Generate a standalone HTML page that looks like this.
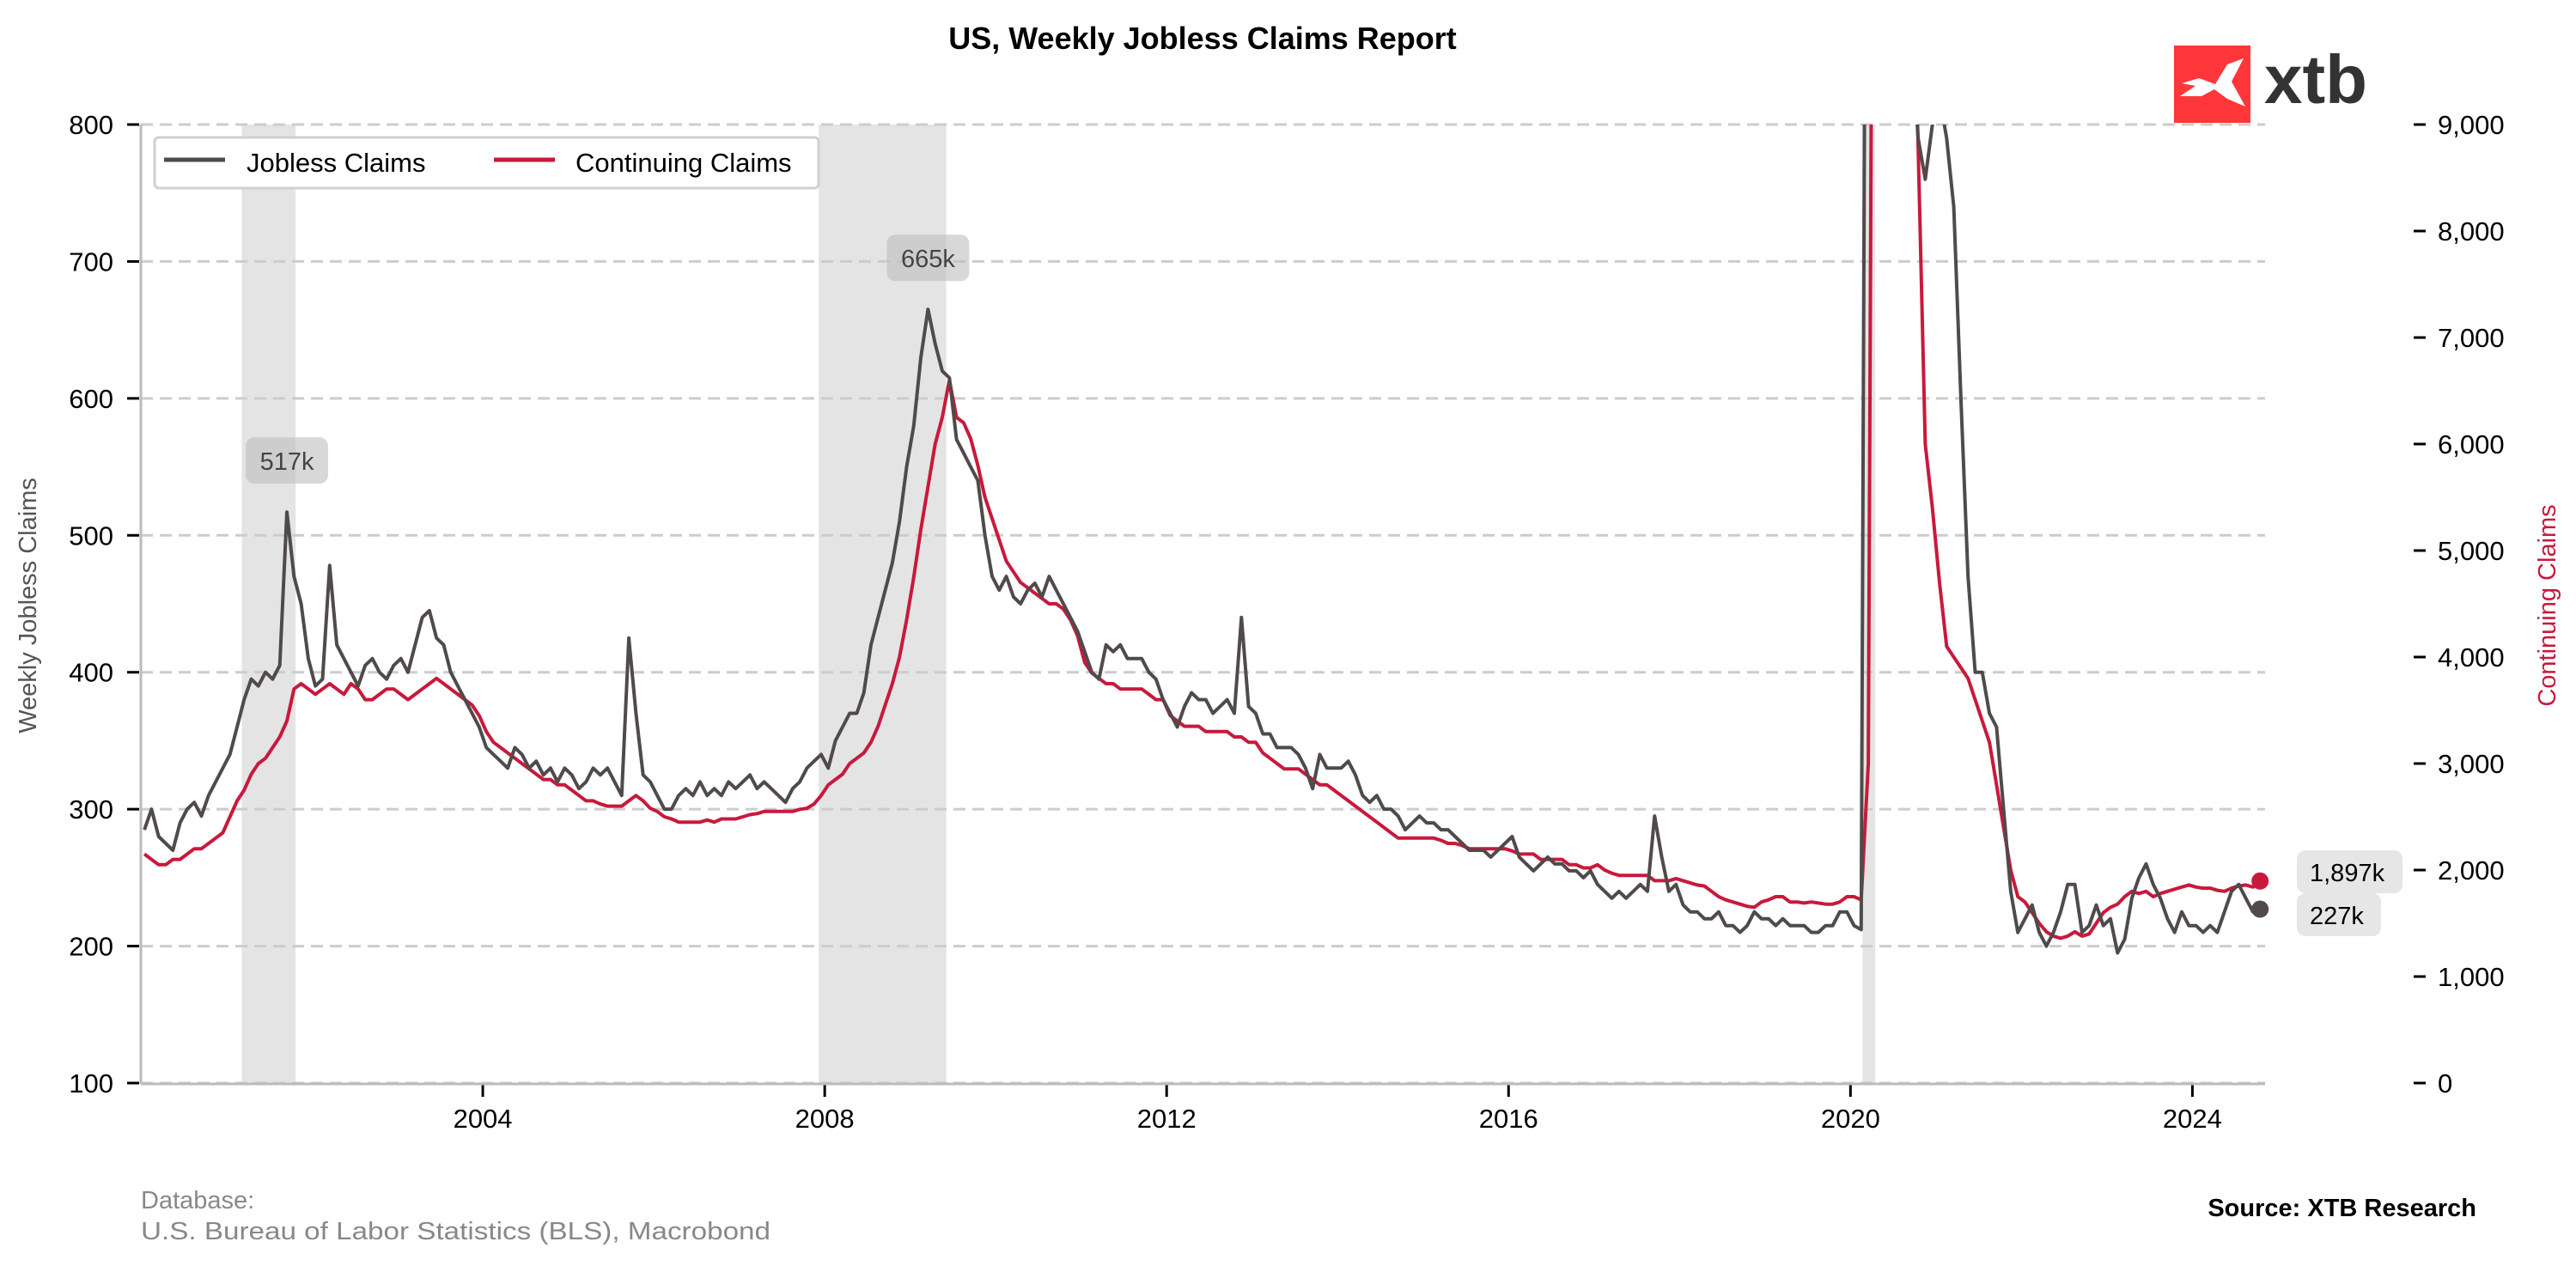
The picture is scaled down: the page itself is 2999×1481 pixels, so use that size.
<!DOCTYPE html>
<html><head><meta charset="utf-8"><style>
html,body{margin:0;padding:0;background:#fff;}
svg{display:block;font-family:"Liberation Sans",Arial,sans-serif;}
</style></head><body>
<svg id="chart" width="2999" height="1481" viewBox="0 0 2999 1481" xmlns="http://www.w3.org/2000/svg">
  <defs><clipPath id="plotClip"><rect x="164" y="145" width="2473" height="1116"/></clipPath></defs>
  <text x="1400" y="57" text-anchor="middle" font-size="36" font-weight="bold" fill="#000">US, Weekly Jobless Claims Report</text>
  <g>
    <rect x="2531" y="53" width="89" height="90" fill="#ff363a"/>
    <path d="M2540 97 L2560 91 L2579 98 L2593 75 L2612 68 L2598 95 L2614 124 L2593 115 L2578 104 L2563 112 L2538 112 L2556 100 Z" fill="#fff"/>
    <text x="2636" y="120" font-size="80" font-weight="bold" fill="#333" textLength="120" lengthAdjust="spacingAndGlyphs">xtb</text>
  </g>
  <g id="shading"></g>
  <g id="grid"></g>
  <g id="series" clip-path="url(#plotClip)"></g>
  <g id="axes"></g>
  <g id="annot"></g>
  <g>
    <rect x="180" y="160" width="773" height="59" rx="5" fill="#fff" stroke="#d0d0d0" stroke-width="3"/>
    <line x1="191" y1="186" x2="262" y2="186" stroke="#504a4a" stroke-width="5"/>
    <text x="287" y="200" font-size="31" fill="#000">Jobless Claims</text>
    <line x1="575" y1="186" x2="646" y2="186" stroke="#c8193c" stroke-width="5"/>
    <text x="670" y="200" font-size="31" fill="#000">Continuing Claims</text>
  </g>
  <text transform="translate(42,705) rotate(-90)" text-anchor="middle" font-size="29" fill="#555">Weekly Jobless Claims</text>
  <text transform="translate(2975,705) rotate(-90)" text-anchor="middle" font-size="29" fill="#c8193c">Continuing Claims</text>
  <text x="164" y="1407" font-size="29" fill="#888">Database:</text>
  <text x="164" y="1443" font-size="29" fill="#888" textLength="733" lengthAdjust="spacingAndGlyphs">U.S. Bureau of Labor Statistics (BLS), Macrobond</text>
  <text x="2883" y="1416" text-anchor="end" font-size="29" font-weight="bold" fill="#000">Source: XTB Research</text>
</svg>
<script>
// Monthly values starting Jan 2000 (thousands)
const jobless = [
285,300,280,275,270,290,300,305,295,310,320,330,
340,360,380,395,390,400,395,405,517,470,450,410,
390,395,478,420,410,400,390,405,410,400,395,405,
410,400,420,440,445,425,420,400,390,380,370,360,
345,340,335,330,345,340,330,335,325,330,320,330,
325,315,320,330,325,330,320,310,425,370,325,320,
310,300,300,310,315,310,320,310,315,310,320,315,
320,325,315,320,315,310,305,315,320,330,335,340,
330,350,360,370,370,385,420,440,460,480,510,550,
580,630,665,640,620,615,570,560,550,540,500,470,
460,470,455,450,460,465,455,470,460,450,440,430,
415,400,395,420,415,420,410,410,410,400,395,380,
370,360,375,385,380,380,370,375,380,370,440,375,
370,355,355,345,345,345,340,330,315,340,330,330,
330,335,325,310,305,310,300,300,295,285,290,295,
290,290,285,285,280,275,270,270,270,265,270,275,
280,265,260,255,260,265,260,260,255,255,250,255,
245,240,235,240,235,240,245,240,295,265,240,245,
230,225,225,220,220,225,215,215,210,215,225,220,
220,215,220,215,215,215,210,210,215,215,225,225,
215,212,1500,3000,2200,1500,1350,1000,870,790,760,800,
820,790,740,600,470,400,400,370,360,300,240,210,
220,230,210,200,210,225,245,245,210,215,230,215,
220,195,205,235,250,260,245,235,220,210,225,215,
215,210,215,210,225,240,245,235,225,227];
const continuing = [
2150,2100,2050,2050,2100,2100,2150,2200,2200,2250,2300,2350,
2500,2650,2750,2900,3000,3050,3150,3250,3400,3700,3750,3700,
3650,3700,3750,3700,3650,3750,3700,3600,3600,3650,3700,3700,
3650,3600,3650,3700,3750,3800,3750,3700,3650,3600,3550,3450,
3300,3200,3150,3100,3050,3000,2950,2900,2850,2850,2800,2800,
2750,2700,2650,2650,2620,2600,2600,2600,2650,2700,2650,2580,
2550,2500,2480,2450,2450,2450,2450,2470,2450,2480,2480,2480,
2500,2520,2530,2550,2550,2550,2550,2550,2570,2580,2620,2700,
2800,2850,2900,3000,3050,3100,3200,3350,3550,3750,4000,4350,
4750,5200,5600,6000,6250,6600,6250,6200,6050,5800,5500,5300,
5100,4900,4800,4700,4650,4600,4550,4500,4500,4450,4350,4200,
3950,3850,3800,3750,3750,3700,3700,3700,3700,3650,3600,3600,
3450,3400,3350,3350,3350,3300,3300,3300,3300,3250,3250,3200,
3200,3100,3050,3000,2950,2950,2950,2900,2850,2800,2800,2750,
2700,2650,2600,2550,2500,2450,2400,2350,2300,2300,2300,2300,
2300,2300,2280,2250,2250,2230,2200,2200,2200,2200,2200,2200,
2180,2150,2150,2150,2100,2100,2100,2100,2050,2050,2020,2020,
2050,2000,1970,1950,1950,1950,1950,1950,1900,1900,1900,1920,
1900,1880,1860,1850,1800,1750,1720,1700,1680,1660,1650,1700,
1720,1750,1750,1700,1700,1690,1700,1690,1680,1680,1700,1750,
1750,1720,3000,18000,21000,18000,16500,14000,11500,8800,6000,5400,
4700,4100,4000,3900,3800,3600,3400,3200,2800,2400,2000,1750,
1700,1600,1500,1420,1380,1360,1380,1420,1380,1400,1500,1600,
1650,1680,1750,1800,1780,1800,1750,1780,1800,1820,1840,1860,
1840,1830,1830,1810,1800,1830,1850,1860,1840,1897];
const leftTicks = [100,200,300,400,500,600,700,800];
const rightTicks = [0,1000,2000,3000,4000,5000,6000,7000,8000,9000];
const rightTickLabels = ["0","1,000","2,000","3,000","4,000","5,000","6,000","7,000","8,000","9,000"];
const xTicks = [2004,2008,2012,2016,2020,2024];
const recessionStarts = [2001.18, 2007.93, 2020.14];
const recessionEnds = [2001.81, 2009.42, 2020.29];
const peakLabels = ["517k","665k"];
const peakIndex = [20, 110];

const NS="http://www.w3.org/2000/svg";
const X0=164,X1=2637,Y0=145,Y1=1261;
const xScale=t=>X0+(t-2000)/(24.85)*(X1-X0);
const yL=v=>Y1-(v-100)/700*(Y1-Y0);
const yR=v=>Y1-v/9000*(Y1-Y0);
const tOf=i=>2000+(i+0.5)/12;
function mk(tag,attrs,parent){const e=document.createElementNS(NS,tag);for(const k in attrs)e.setAttribute(k,attrs[k]);parent.appendChild(e);return e;}
const G=id=>document.getElementById(id);

recessionStarts.forEach((s,i)=>{
  const r=mk('rect',{x:xScale(s),y:Y0,width:xScale(recessionEnds[i])-xScale(s),height:Y1-Y0,fill:'#e4e4e4'},G('shading'));
  
  
});
leftTicks.forEach(v=>{
  const l=mk('line',{x1:X0,x2:X1,y1:yL(v),y2:yL(v),stroke:'#cccccc','stroke-width':3,'stroke-dasharray':'14 8'},G('grid'));
  
  
  const t=mk('line',{x1:148,x2:162,y1:yL(v),y2:yL(v),stroke:'#000','stroke-width':3},G('axes'));
  
  
  const tx=mk('text',{x:132,y:yL(v)+11,'text-anchor':'end','font-size':31,fill:'#000'},G('axes'));
  tx.textContent=v;
  
  
});
rightTicks.forEach((v,i)=>{
  const t=mk('line',{x1:2810,x2:2824,y1:yR(v),y2:yR(v),stroke:'#000','stroke-width':3},G('axes'));
  
  
  const tx=mk('text',{x:2838,y:yR(v)+11,'font-size':31,fill:'#000'},G('axes'));
  tx.textContent=rightTickLabels[i];
  
  
});
xTicks.forEach(y=>{
  const t=mk('line',{x1:xScale(y),x2:xScale(y),y1:1263,y2:1277,stroke:'#000','stroke-width':3},G('axes'));
  
  
  const tx=mk('text',{x:xScale(y),y:1313,'text-anchor':'middle','font-size':31,fill:'#000'},G('axes'));
  tx.textContent=y;
  
  
});
const sp1=mk('line',{x1:X0,x2:X0,y1:Y0,y2:Y1+1,stroke:'#bbbbbb','stroke-width':3},G('axes'));


const sp2=mk('line',{x1:X0,x2:X1,y1:Y1+1,y2:Y1+1,stroke:'#bbbbbb','stroke-width':3},G('axes'));



const dR=continuing.map((v,i)=>(i?'L':'M')+xScale(tOf(i)).toFixed(1)+' '+yR(v).toFixed(1)).join(' ');
const pR=mk('path',{d:dR,fill:'none',stroke:'#c8193c','stroke-width':4,'stroke-linejoin':'round'},G('series'));


const dL=jobless.map((v,i)=>(i?'L':'M')+xScale(tOf(i)).toFixed(1)+' '+yL(v).toFixed(1)).join(' ');
const pL=mk('path',{d:dL,fill:'none',stroke:'#504a4a','stroke-width':4,'stroke-linejoin':'round'},G('series'));



peakIndex.forEach((idx,i)=>{
  const cx=xScale(tOf(idx)), cy=yL(jobless[idx])-60;
  const b=mk('rect',{x:cx-48,y:cy-27,width:96,height:54,rx:10,fill:'rgba(190,190,190,0.6)'},G('annot'));
  
  
  const t=mk('text',{x:cx,y:cy+11,'text-anchor':'middle','font-size':29,fill:'#444'},G('annot'));
  t.textContent=peakLabels[i];
  
  
});
const lastI=jobless.length-1, lastC=continuing.length-1;
const d1=mk('circle',{cx:xScale(tOf(lastC)),cy:yR(continuing[lastC]),r:10,fill:'#c8193c'},G('annot'));


const d2=mk('circle',{cx:xScale(tOf(lastI)),cy:yL(jobless[lastI]),r:10,fill:'#504a4a'},G('annot'));


const endLabels=[[ (continuing[lastC]).toLocaleString('en-US')+'k', 990, 123],[jobless[lastI]+'k',1040,98]];
endLabels.forEach(([txt,y,w])=>{
  const b=mk('rect',{x:2674,y:y,width:w,height:50,rx:10,fill:'#e6e6e6'},G('annot'));
  
  
  const t=mk('text',{x:2689,y:y+36,'font-size':29,fill:'#000'},G('annot'));
  t.textContent=txt;
  
  
});
</script>
</body></html>
